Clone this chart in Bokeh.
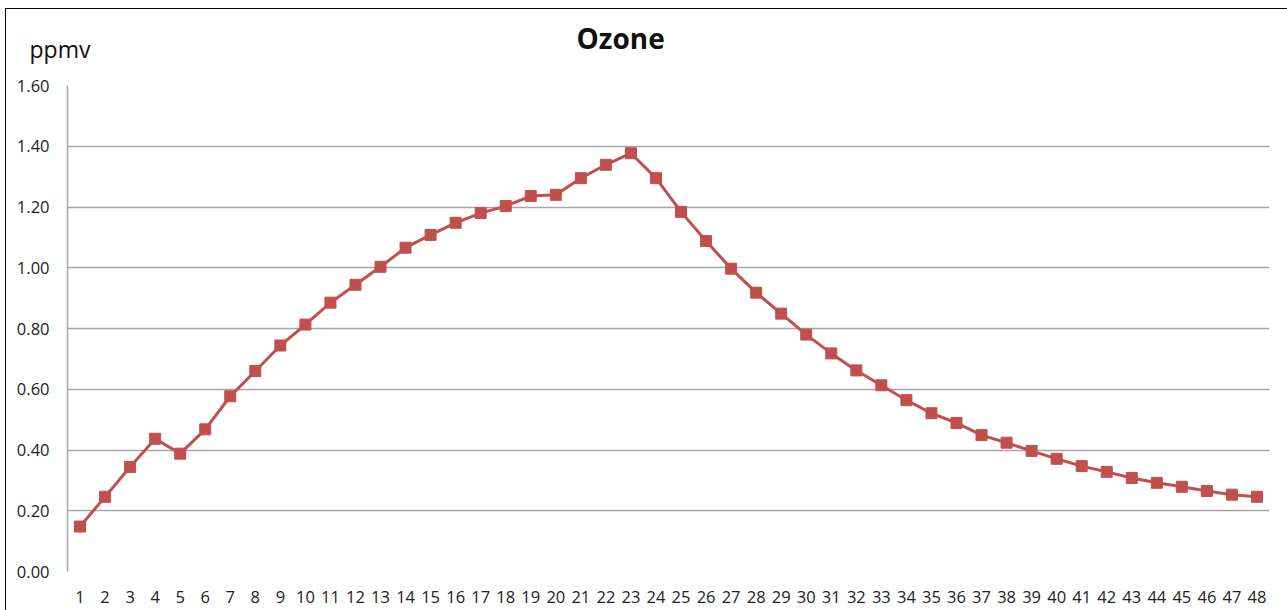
from bokeh.plotting import figure
from bokeh.models import Range1d, FixedTicker, NumeralTickFormatter, Title, ColumnDataSource
from bokeh.embed import file_html
from bokeh.resources import INLINE

hours = list(range(1, 49))
ozone = [0.148, 0.246, 0.344, 0.437, 0.388, 0.468, 0.577, 0.660, 0.744, 0.813,
         0.885, 0.944, 1.003, 1.066, 1.108, 1.148, 1.180, 1.203, 1.236, 1.240,
         1.295, 1.339, 1.377, 1.295, 1.184, 1.088, 0.997, 0.918, 0.849, 0.780,
         0.718, 0.662, 0.613, 0.564, 0.521, 0.489, 0.449, 0.424, 0.397, 0.371,
         0.347, 0.328, 0.308, 0.292, 0.279, 0.265, 0.253, 0.246]
y_ticks = [0.0, 0.2, 0.4, 0.6, 0.8, 1.0, 1.2, 1.4, 1.6]
title_text = "Ozone"
unit_text = "ppmv"

FONT = "Open Sans"
RED = "#C0504D"
GRID = "#a6a6a6"

W, H = 1282, 602
p = figure(width=W, height=H, output_backend="svg", toolbar_location=None,
           x_range=Range1d(0.5, 48.5), y_range=Range1d(0, 1.6),
           min_border_left=61, min_border_right=19, min_border_top=74, min_border_bottom=40)
p.outline_line_color = None
p.background_fill_color = "white"
p.border_fill_color = "white"
p.styles = {"margin-left": "5px", "margin-top": "8px",
            "border-left": "1px solid black", "border-top": "1px solid black"}

src = ColumnDataSource(dict(x=hours, y=ozone))
p.line("x", "y", source=src, line_color=RED, line_width=3)
p.scatter("x", "y", source=src, marker="square", size=11, fill_color=RED, line_color=RED)

p.xaxis.ticker = FixedTicker(ticks=hours)
p.yaxis.ticker = FixedTicker(ticks=y_ticks)
p.yaxis.formatter = NumeralTickFormatter(format="0.00")
for ax in (p.xaxis[0], p.yaxis[0]):
    ax.major_tick_line_color = None
    ax.minor_tick_line_color = None
    ax.major_label_text_font = FONT
    ax.major_label_text_font_size = "16.5px"
    ax.major_label_text_color = "#222222"
p.xaxis.major_label_standoff = 13
p.yaxis.major_label_standoff = 12
p.xaxis.axis_line_color = None
p.yaxis.axis_line_color = GRID
p.yaxis.axis_line_width = 1.5
p.xgrid.grid_line_color = None
p.ygrid.grid_line_color = GRID
p.ygrid.grid_line_width = 1.5

# inner title (closest to the frame): unit label
p.add_layout(Title(text=unit_text, align="left", offset=-38, standoff=42,
                   text_font=FONT, text_font_size="23px", text_font_style="normal",
                   text_color="#111111"), "above")
# outer title: chart title (negative standoff lets it overlap the unit label row)
p.add_layout(Title(text=title_text, align="left", offset=509, standoff=-94,
                   text_font=FONT, text_font_size="28px", text_font_style="bold",
                   text_color="#111111"), "above")

open("out.html", "w").write(file_html(p, INLINE))
